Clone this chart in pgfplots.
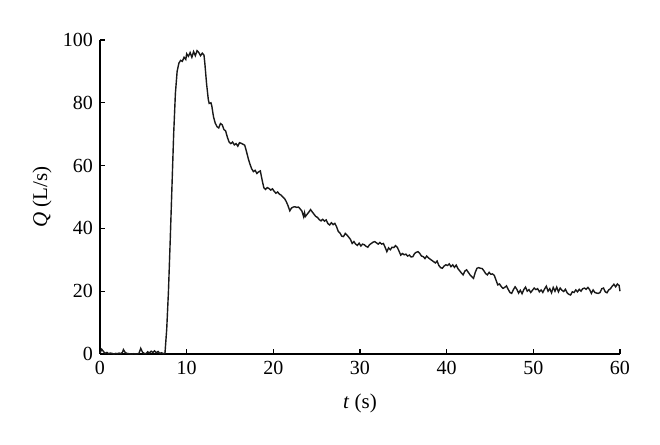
\documentclass[border=0pt]{standalone}
\usepackage{pgfplots}
\pgfplotsset{compat=1.18}
\usepackage{fontspec}
\setmainfont{Liberation Serif}
\begin{document}
\begin{tikzpicture}
\useasboundingbox (-50pt,-45.5pt) rectangle (280pt,177pt);
\begin{axis}[
  at={(0,0)}, anchor=south west,
  scale only axis, width=260pt, height=157pt,
  xmin=0, xmax=60, ymin=0, ymax=100,
  axis lines=left, axis line style={-, line width=0.6pt},
  xtick={0,10,...,60}, ytick={0,20,...,100},
  tick align=inside, major tick length=2.5pt,
  tick style={line width=0.6pt, black},
  /pgf/number format/assume math mode=true,
  tick label style={font=\fontsize{10}{12}\selectfont},
  xlabel={\textit{t} (s)}, ylabel={\textit{Q} (L/s)},
  label style={font=\fontsize{10.5}{12}\selectfont},
  xlabel style={at={(axis description cs:0.5,0)}, anchor=center, yshift=-24.5pt},
  ylabel style={at={(axis description cs:0,0.5)}, anchor=center, yshift=29pt},
  clip=false,
]
\addplot[line width=0.7pt, black!90] coordinates {
(0,0.3)(0.2,1.5)(0.4,0.8)(0.6,0.2)(0.8,0.5)(1.0,0.1)(1.2,0.3)(1.4,0.2)(1.6,0.0)(1.8,0.2)(2.0,0.1)(2.2,0.3)(2.4,0.1)(2.6,0.6)(2.7,1.4)(2.9,0.5)(3.1,0.2)(3.3,0.1)(3.6,0.0)(3.9,0.1)(4.2,0.0)(4.5,0.2)(4.7,1.8)(4.9,0.6)(5.1,0.2)(5.3,0.1)(5.5,0.7)(5.7,0.3)(5.9,0.9)(6.1,0.5)(6.3,1.0)(6.5,0.4)(6.7,0.8)(6.9,0.2)(7.1,0.4)(7.3,0.1)(7.5,0.3)
(7.7,8)(7.9,20)(8.1,36)(8.3,53)(8.5,70)(8.7,83)(8.9,90)(9.1,92.6)(9.3,93.5)(9.5,93.2)(9.7,94.5)(9.9,93.8)(10.0,95.6)(10.2,94.8)(10.4,96.0)(10.6,94.5)(10.8,96.3)(11.0,95.0)(11.2,96.6)(11.4,96.0)(11.6,95.0)(11.8,95.8)(12.0,95.2)(12.1,92.5)(12.3,86)(12.5,81)(12.6,79.8)(12.8,80.0)(12.9,79.0)(13.1,75.5)(13.3,73.5)(13.5,72.4)(13.7,72.0)(13.9,73.4)(14.1,73.0)(14.3,71.5)(14.5,71.0)(14.7,69.0)(14.9,67.5)(15.1,67.0)(15.3,67.5)(15.5,66.6)(15.7,67.0)(15.9,66.2)(16.1,67.3)(16.3,67.1)(16.5,66.8)(16.7,66.5)(16.9,64.5)(17.1,62.3)(17.3,60.5)(17.5,59.0)(17.7,58.1)(17.9,58.5)(18.1,57.5)(18.3,58.0)(18.5,58.3)(18.7,55.5)(18.9,53.0)(19.1,52.4)(19.3,53.0)(19.5,52.7)(19.7,52.2)(19.9,52.6)(20.1,51.8)(20.3,51.2)(20.5,51.6)(20.7,50.9)(20.9,50.6)(21.1,50.0)(21.3,49.5)(21.5,48.5)(21.7,47.2)(21.9,45.6)(22.1,46.5)(22.3,46.8)(22.5,46.9)(22.7,46.7)(22.9,46.8)(23.1,46.2)(23.3,45.5)(23.5,43.7)(23.6,45.0)(23.7,43.8)(23.9,44.5)(24.1,45.2)(24.3,46.0)(24.5,45.2)(24.7,44.5)(24.9,43.8)(25.1,43.5)(25.3,42.8)(25.5,42.4)(25.7,42.9)(25.9,42.3)(26.1,42.7)(26.3,41.5)(26.5,41.1)(26.7,41.8)(26.9,41.2)(27.1,41.6)(27.3,40.5)(27.5,39.0)(27.7,38.5)(27.9,37.5)(28.1,37.4)(28.3,38.4)(28.5,37.9)(28.7,37.2)(28.9,36.5)(29.1,35.2)(29.3,35.8)(29.5,35.0)(29.7,34.6)(29.9,35.3)(30.1,34.4)(30.3,35.0)(30.5,34.8)(30.7,34.3)(30.9,34.0)(31.1,34.8)(31.3,35.2)(31.5,35.6)(31.7,35.8)(31.9,35.4)(32.1,35.0)(32.3,35.5)(32.5,35.0)(32.7,35.2)(32.9,34.0)(33.1,32.6)(33.3,33.8)(33.5,33.2)(33.7,34.0)(33.9,33.9)(34.1,34.5)(34.3,34.0)(34.5,32.8)(34.7,31.5)(34.9,32.0)(35.1,31.6)(35.3,31.8)(35.5,31.2)(35.7,31.5)(35.9,30.9)(36.1,31.0)(36.3,32.0)(36.5,32.4)(36.7,32.6)(36.9,32.0)(37.1,31.2)(37.3,31.0)(37.5,30.4)(37.7,31.2)(37.9,30.6)(38.1,30.2)(38.3,29.8)(38.5,29.4)(38.7,29.0)(38.9,29.6)(39.1,28.2)(39.3,27.5)(39.5,27.3)(39.7,28.0)(39.9,28.4)(40.1,28.2)(40.3,28.7)(40.5,27.8)(40.7,28.4)(40.9,27.6)(41.1,28.3)(41.3,27.2)(41.5,26.5)(41.7,25.8)(41.9,25.2)(42.1,26.4)(42.3,26.8)(42.5,26.0)(42.7,25.2)(42.9,24.6)(43.1,24.1)(43.3,26.0)(43.5,27.3)(43.7,27.5)(43.9,27.3)(44.1,27.2)(44.3,26.5)(44.5,25.6)(44.7,25.2)(44.9,26.0)(45.1,25.4)(45.3,25.5)(45.5,25.0)(45.7,23.5)(45.9,22.0)(46.1,22.3)(46.3,21.5)(46.5,20.9)(46.7,21.2)(46.9,21.7)(47.1,20.6)(47.3,19.6)(47.5,19.3)(47.7,20.5)(47.9,21.4)(48.1,20.6)(48.3,19.4)(48.5,20.3)(48.7,19.2)(48.9,20.5)(49.1,21.3)(49.3,20.0)(49.5,20.5)(49.7,19.6)(49.9,20.3)(50.1,21.0)(50.3,20.5)(50.5,20.8)(50.7,19.8)(50.9,20.4)(51.1,19.6)(51.3,20.7)(51.5,21.6)(51.7,20.0)(51.9,20.8)(52.1,19.5)(52.3,21.2)(52.5,20.0)(52.7,21.3)(52.9,19.8)(53.1,21.0)(53.3,20.3)(53.5,19.9)(53.7,20.6)(53.9,19.5)(54.1,19.0)(54.3,18.8)(54.5,19.8)(54.7,19.6)(54.9,20.4)(55.1,19.8)(55.3,20.6)(55.5,20.0)(55.7,20.8)(55.9,21.0)(56.1,20.6)(56.3,21.2)(56.5,20.5)(56.7,19.3)(56.9,20.4)(57.1,19.6)(57.3,19.4)(57.5,19.3)(57.7,19.6)(57.9,20.8)(58.1,21.0)(58.3,19.8)(58.5,19.5)(58.7,20.4)(58.9,20.8)(59.1,21.6)(59.3,22.2)(59.5,21.4)(59.7,22.3)(59.9,21.8)(60.0,20.0)
};
\end{axis}
\end{tikzpicture}
\end{document}
